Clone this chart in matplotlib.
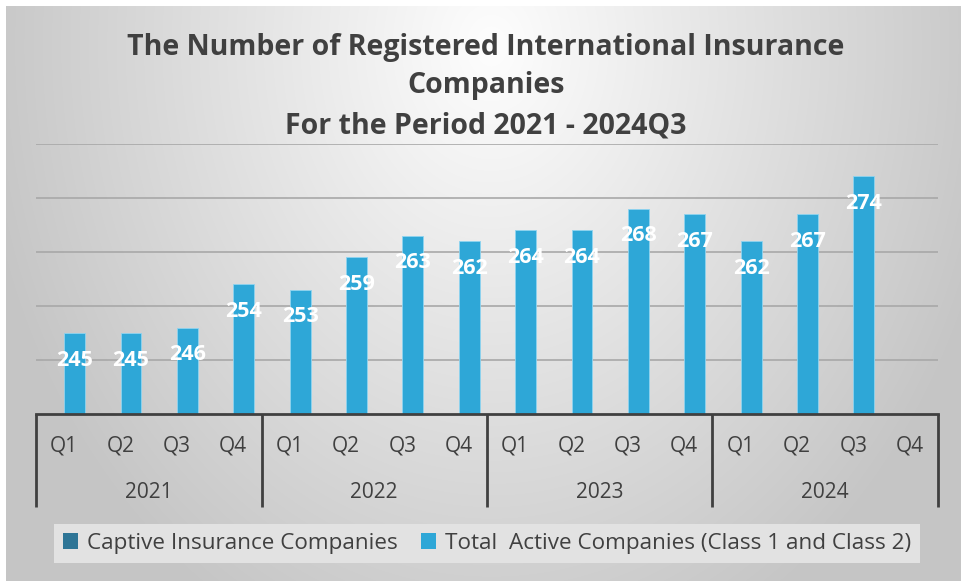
import matplotlib.pyplot as plt
from matplotlib.patches import Patch
import matplotlib.transforms as mtransforms
import numpy as np

plt.rcParams['font.family'] = ['Open Sans', 'DejaVu Sans']

# data
years = ["2021", "2022", "2023", "2024"]
quarters = ["Q1", "Q2", "Q3", "Q4"]
total_active = [245, 245, 246, 254,
                253, 259, 263, 262,
                264, 264, 268, 267,
                262, 267, 274, None]
series_names = ["Captive Insurance Companies",
                "Total  Active Companies (Class 1 and Class 2)"]
title_lines = ["The Number of Registered International Insurance",
               "Companies",
               "For the Period 2021 - 2024Q3"]

W, H = 962, 581
bar_color = "#2EA7D7"
captive_color = "#2E7596"
text_color = "#404040"

fig = plt.figure(figsize=(W / 100, H / 100), dpi=100)

# radial-ish grey gradient background of the chart area
bg = fig.add_axes([6 / W, 0, (W - 6) / W, (H - 6) / H])
yy, xx = np.mgrid[0:575, 0:956]
d = np.sqrt(((xx - 485) / 540.0) ** 2 + ((yy - 40) / 680.0) ** 2)
val = np.clip(0.995 - 0.23 * d, 0.775, 1.0)
bg.imshow(np.dstack([val, val, val]), aspect='auto', interpolation='bilinear')
bg.set_axis_off()

# plot area
top_px, bot_px, left_px, right_px = 144, 414, 36, 938
ax = fig.add_axes([left_px / W, (H - bot_px) / H,
                   (right_px - left_px) / W, (bot_px - top_px) / H])
ax.patch.set_alpha(0)

n = len(total_active)
x = np.arange(n)
bw = 0.37
vals = [v if v is not None else np.nan for v in total_active]
bars = ax.bar(x, vals, width=bw, align='edge', bottom=0,
              color=bar_color, edgecolor="#8fd4f0", linewidth=0.6, zorder=3)
for xi, v in zip(x, total_active):
    if v is None:
        continue
    ax.annotate(str(v), (xi + bw / 2, v), xytext=(0, -19.5),
                textcoords='offset points', ha='center', va='center',
                color='white', fontsize=15.5, fontweight='bold', zorder=4)

ax.set_xlim(-0.5, n - 0.5)
ax.set_ylim(230, 280)
ax.set_yticks([240, 250, 260, 270, 280])
ax.yaxis.grid(True, color="#a8a8a8", linewidth=1.2, zorder=0)
ax.tick_params(left=False, labelleft=False, bottom=False, labelbottom=False)
for s in ["top", "right", "left"]:
    ax.spines[s].set_visible(False)
ax.spines["bottom"].set_color(text_color)
ax.spines["bottom"].set_linewidth(2.0)
ax.spines["bottom"].set_zorder(5)

# two-level category axis
trans = mtransforms.blended_transform_factory(ax.transData, ax.transAxes)
sep_bottom = -(507 - bot_px) / (bot_px - top_px)
for g in range(len(years) + 1):
    xs = g * len(quarters) - 0.5
    ax.plot([xs, xs], [0, sep_bottom], transform=trans, color=text_color,
            linewidth=2.0, clip_on=False, solid_capstyle='butt')
q_y = -(446 - bot_px) / (bot_px - top_px)
y_y = -(492 - bot_px) / (bot_px - top_px)
for i in range(n):
    ax.text(i, q_y, quarters[i % 4], transform=trans, ha='center', va='center',
            fontsize=15, color=text_color)
for g, yr in enumerate(years):
    ax.text(g * 4 + 1.5, y_y, yr, transform=trans, ha='center', va='center',
            fontsize=15, color=text_color)

# title
for line, ypx in zip(title_lines, [47, 86, 126]):
    fig.text(486 / W, 1 - ypx / H, line, ha='center', va='center',
             fontsize=20.5, fontweight='bold', color=text_color)

# legend
handles = [Patch(facecolor=captive_color), Patch(facecolor=bar_color)]
leg = fig.legend(handles, series_names, loc='center', ncol=2,
                 bbox_to_anchor=(487 / W, 1 - 543.5 / H), frameon=True,
                 fontsize=16.2, handlelength=0.7, handleheight=0.7,
                 handletextpad=0.4, columnspacing=1.0, borderpad=0.4,
                 fancybox=False, labelcolor=text_color)
leg.get_frame().set_facecolor("#e2e2e2")
leg.get_frame().set_edgecolor("none")
leg.get_frame().set_alpha(1)

fig.savefig("out.png", dpi=100)
